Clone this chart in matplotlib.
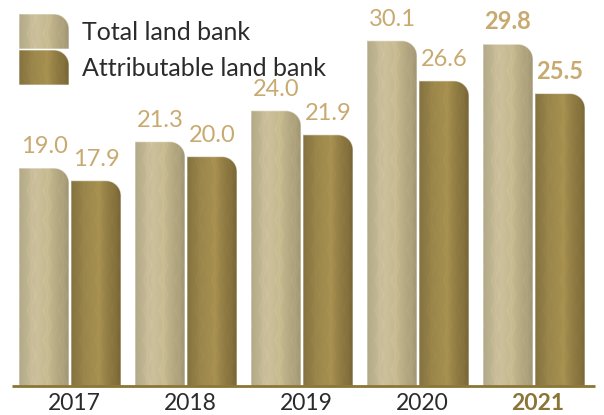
import numpy as np
import matplotlib.pyplot as plt
from matplotlib.path import Path
from matplotlib.patches import PathPatch

years = ['2017', '2018', '2019', '2020', '2021']
total = [19.0, 21.3, 24.0, 30.1, 29.8]
attrib = [17.9, 20.0, 21.9, 26.6, 25.5]
series_names = ['Total land bank', 'Attributable land bank']

W, H = 604, 415
PXX, PXY = 116.0, 11.47      # pixels per data unit
X0PX, BASEPX = 70.0, 386.0   # pixel pos of x=0 and y=0 (from top)

fig = plt.figure(figsize=(W / 100, H / 100), dpi=100)
ax = fig.add_axes([0, 0, 1, 1])
ax.set_xlim(-X0PX / PXX, (W - X0PX) / PXX)
ax.set_ylim(-(H - BASEPX) / PXY, BASEPX / PXY)
ax.axis('off')

FONT = 'Lato'
GOLD_TXT = '#c8aa70'
DARK_GOLD = '#8a7536'

tot_stops = [(0.0, (0.70, 0.665, 0.53)), (0.35, (0.80, 0.755, 0.61)),
             (0.6, (0.77, 0.72, 0.56)), (1.0, (0.63, 0.59, 0.45))]
att_stops = [(0.0, (0.52, 0.45, 0.25)), (0.35, (0.62, 0.54, 0.30)),
             (0.55, (0.65, 0.56, 0.31)), (1.0, (0.47, 0.40, 0.21))]


def grad(stops, n):
    t = np.linspace(0, 1, n)
    pos = [s[0] for s in stops]
    return np.stack([np.interp(t, pos, [s[1][c] for s in stops]) for c in range(3)], axis=-1)


def rounded_bar(xl, w, yb, yt, stops, r_px=15):
    xr = xl + w
    h = yt - yb
    rx, ry = r_px / PXX, r_px / PXY
    ry = min(ry, h * 0.9)
    n = 20
    ang = np.linspace(np.pi / 2, 0, n)
    verts = [(xl, yb), (xl, yt), (xr - rx, yt)]
    verts += [(xr - rx + rx * np.cos(a), yt - ry + ry * np.sin(a)) for a in ang]
    verts += [(xr, yb), (xl, yb)]
    codes = [Path.MOVETO] + [Path.LINETO] * (len(verts) - 2) + [Path.CLOSEPOLY]
    patch = PathPatch(Path(verts, codes), facecolor='none',
                      edgecolor=(1, 1, 1, 0.55), lw=0.8, zorder=3)
    ax.add_patch(patch)
    nx = int(round(w * PXX))
    ny = max(int(round(h * PXY)), 2)
    g = grad(stops, nx)
    xx, yy = np.meshgrid(np.arange(nx), np.arange(ny))
    pat = np.cos(2 * np.pi * xx / 16 + 1.6 * np.abs(np.sin(np.pi * yy / 30)))
    pat2 = np.cos(2 * np.pi * (xx + 8) / 16 - 1.6 * np.abs(np.sin(np.pi * (yy + 15) / 30)))
    tex = 0.03 * np.maximum(pat, pat2) ** 8
    img = np.clip(g[None, :, :] * (1 + tex[:, :, None]), 0, 1)
    im = ax.imshow(img, extent=[xl, xr, yb, yt], origin='lower', aspect='auto',
                   interpolation='bilinear', zorder=2)
    im.set_clip_path(patch)
    return patch


bw = 50 / PXX
gap = 1 / PXX
x = np.arange(len(years))
for i in range(len(years)):
    bold = i == len(years) - 1
    rounded_bar(x[i] - gap - bw, bw, 0, total[i], tot_stops)
    rounded_bar(x[i] + gap, bw, 0, attrib[i], att_stops)
    kw = dict(ha='center', va='bottom', fontsize=17, family=FONT,
              color=GOLD_TXT, fontweight='bold' if bold else 'normal')
    ax.text(x[i] - gap - bw / 2, total[i] + 11 / PXY, f'{total[i]:.1f}', **kw)
    ax.text(x[i] + gap + bw / 2, attrib[i] + 11 / PXY, f'{attrib[i]:.1f}', **kw)
    ax.text(x[i] + 4 / PXX, -7 / PXY, years[i], ha='center', va='top', fontsize=16.5,
            family=FONT, color=DARK_GOLD if bold else '#2b2b2b',
            fontweight='bold' if bold else 'normal')

ax.plot([-58 / PXX, 525 / PXX], [0, 0], color=DARK_GOLD, lw=2, zorder=4,
        solid_capstyle='butt')


# legend
def px2d(px, py):
    return (px - X0PX) / PXX, (BASEPX - py) / PXY


for k, (name, stops) in enumerate(zip(series_names, [tot_stops, att_stops])):
    top = 14 + k * 36
    xl, yb = px2d(19, top + 35)
    _, yt = px2d(19, top)
    rounded_bar(xl, bw, yb, yt, stops)
    tx, ty = px2d(82, top + 19)
    ax.text(tx, ty, name, ha='left', va='center', fontsize=18, family=FONT,
            color='#2b2b2b', fontweight='normal')

fig.savefig('out.png', dpi=100)
